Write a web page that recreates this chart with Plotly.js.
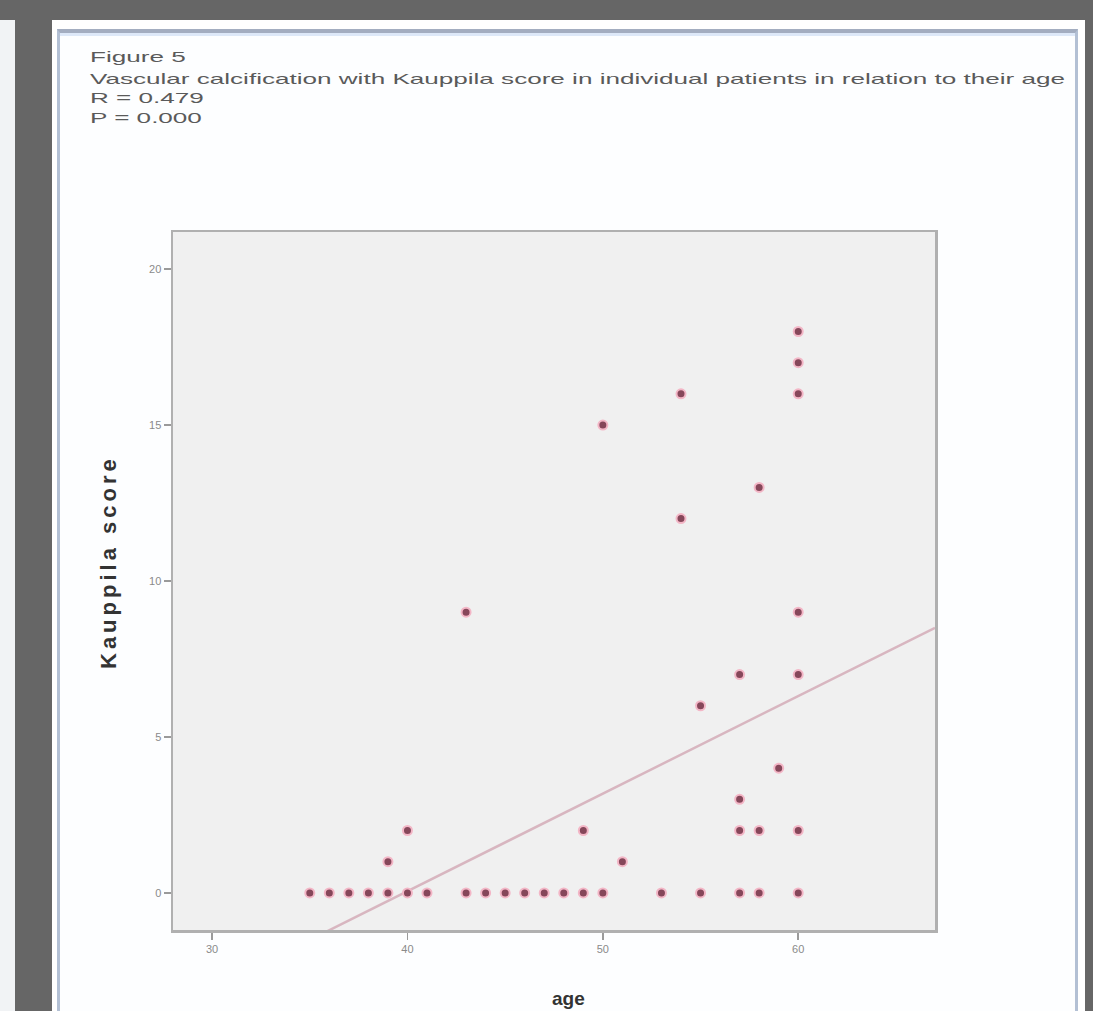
<!DOCTYPE html>
<html>
<head>
<meta charset="utf-8">
<script src="https://cdn.plot.ly/plotly-3.0.1.min.js"></script>
<style>
  html, body { margin: 0; padding: 0; background: #666666; width: 1093px; height: 1011px; overflow: hidden; }
  #strip { position: absolute; left: 0; top: 20px; width: 15px; height: 991px; background: #f1f3f5; }
  #panel { position: absolute; left: 52px; top: 20px; width: 1033px; height: 991px; background: #ffffff; }
  #frame { position: absolute; left: 57px; top: 29px; width: 1015px; height: 990px; background: #fdfeff;
           border-top: 4px solid #a3adc0; border-left: 3px solid #b3c0d4; border-right: 3px solid #b3c0d4;
           box-shadow: inset 0 3px 0 #dde8f8; }
  #chart { position: absolute; left: 0; top: 0; width: 1093px; height: 1011px; }
  #chart .annotation[data-index="0"] .annotation-text,
  #chart .annotation[data-index="1"] .annotation-text,
  #chart .annotation[data-index="2"] .annotation-text,
  #chart .annotation[data-index="3"] .annotation-text { transform-box: fill-box; transform-origin: 0 50%; transform: scaleX(1.74); }
  #chart .annotation[data-index="4"] .annotation-text { letter-spacing: 4px; }
</style>
</head>
<body>
<div id="strip"></div>
<div id="panel"></div>
<div id="frame"></div>
<div id="chart"></div>
<script>
// Data: age (years) vs Kauppila score
var ages = [35,36,37,38,39,40,41,43,44,45,46,47,48,49,50,53,55,57,58,60,
            39,51,
            40,49,57,58,60,
            57,
            59,
            55,
            57,60,
            43,60,
            54,
            58,
            50,
            54,60,
            60,
            60];
var scores = [0,0,0,0,0,0,0,0,0,0,0,0,0,0,0,0,0,0,0,0,
              1,1,
              2,2,2,2,2,
              3,
              4,
              6,
              7,7,
              9,9,
              12,
              13,
              15,
              16,16,
              17,
              18];
// Fit line end points
var fitAges = [28, 67];
var fitScores = [-3.7, 8.5];

var xTicks = [30, 40, 50, 60];
var xTickText = ['30', '40', '50', '60'];
var yTicks = [0, 5, 10, 15, 20];
var yTickText = ['0', '5', '10', '15', '20'];

var headerLines = ['Figure 5',
  'Vascular calcification with Kauppila score in individual patients in relation to their age',
  'R = 0.479',
  'P = 0.000'];
var yTitle = 'Kauppila score';
var xTitle = 'age';

var traces = [
  {
    x: fitAges, y: fitScores, type: 'scatter', mode: 'lines',
    line: { color: '#d8b6c0', width: 2.5 }, hoverinfo: 'skip', showlegend: false
  },
  {
    x: ages, y: scores, type: 'scatter', mode: 'markers',
    marker: { size: 9, color: '#86475a', line: { color: '#f3b6c6', width: 2 } },
    showlegend: false
  }
];

var headerY = [57, 78, 97, 117];
var annotations = headerLines.map(function (t, i) {
  return {
    text: t, xref: 'paper', yref: 'paper',
    x: (88 - 173) / 762, y: (930 - headerY[i]) / 698,
    xanchor: 'left', yanchor: 'middle', align: 'left', showarrow: false,
    font: { family: 'Liberation Sans, Arial, sans-serif', size: 15, color: '#5a5a5a' }
  };
});
annotations.push({
  text: yTitle, xref: 'paper', yref: 'paper',
  x: (108 - 173) / 762, y: (930 - 562) / 698,
  xanchor: 'center', yanchor: 'middle', textangle: -90, showarrow: false,
  font: { family: 'Liberation Sans, Arial, sans-serif', size: 22, color: '#333333', weight: 'bold' }
});
annotations.push({
  text: xTitle, xref: 'paper', yref: 'paper',
  x: (568 - 173) / 762, y: (930 - 998) / 698,
  xanchor: 'center', yanchor: 'middle', showarrow: false,
  font: { family: 'Liberation Sans, Arial, sans-serif', size: 19, color: '#333333', weight: 'bold' }
});

var layout = {
  width: 1093, height: 1011,
  margin: { l: 173, r: 158, t: 232, b: 81 },
  paper_bgcolor: 'rgba(0,0,0,0)',
  plot_bgcolor: '#f0f0f0',
  showlegend: false,
  xaxis: {
    range: [28, 67], tickvals: xTicks, ticktext: xTickText,
    ticks: 'outside', ticklen: 7, tickwidth: 1.5, tickcolor: '#9a9a9a',
    showline: true, mirror: true, linecolor: '#b0b0b0', linewidth: 2.5,
    showgrid: false, zeroline: false,
    tickfont: { family: 'Liberation Sans, Arial, sans-serif', size: 11, color: '#8a8a8a' }
  },
  yaxis: {
    range: [-1.19, 21.19], tickvals: yTicks, ticktext: yTickText,
    ticks: 'outside', ticklen: 7, tickwidth: 1.5, tickcolor: '#9a9a9a',
    showline: true, mirror: true, linecolor: '#b0b0b0', linewidth: 2.5,
    showgrid: false, zeroline: false,
    tickfont: { family: 'Liberation Sans, Arial, sans-serif', size: 11, color: '#8a8a8a' }
  },
  annotations: annotations
};

Plotly.newPlot('chart', traces, layout, { staticPlot: true, displayModeBar: false });
</script>
</body>
</html>
